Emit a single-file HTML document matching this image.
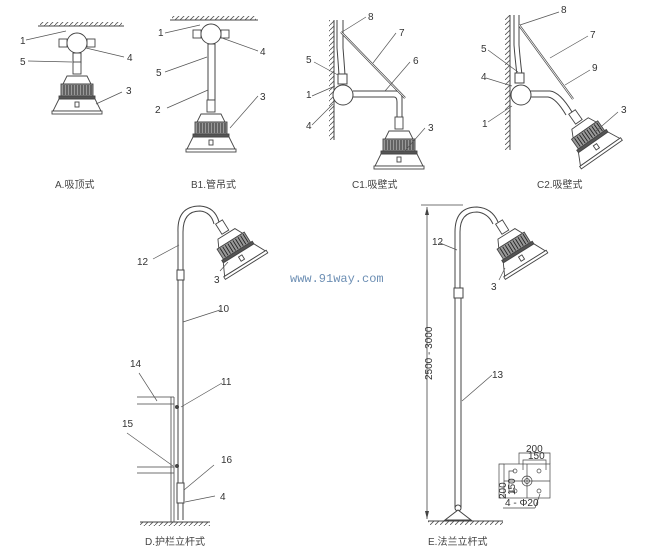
<!DOCTYPE html>
<html><head><meta charset="utf-8"><style>
html,body{margin:0;padding:0;background:#fff;}
svg{display:block;}
text{font-family:"Liberation Sans","Noto Sans CJK SC",sans-serif;font-size:10px;fill:#333;}
.c{font-size:10px;fill:#444;}
.f{font-size:10px;fill:#333;}
</style></head><body>
<svg width="647" height="557" viewBox="0 0 647 557" xmlns="http://www.w3.org/2000/svg">
<defs>
<pattern id="hh" width="5" height="5" patternUnits="userSpaceOnUse"><path d="M0 5 L5 0" stroke="#555" stroke-width="0.8"/></pattern>
<g id="lamp" fill="#fff" stroke="#444" stroke-width="0.9">
  <rect x="-4" y="0" width="8" height="12"/>
  <path d="M-10 14 L10 14 L14 22 L-14 22 Z"/>
  <rect x="-16" y="22" width="32" height="12" fill="#999"/>
  <path d="M-13 23V33M-10 23V33M-7 23V33M-4 23V33M-1 23V33M2 23V33M5 23V33M8 23V33M11 23V33M14 23V33" stroke="#222"/>
  <rect x="-18" y="34" width="36" height="3" fill="#555"/>
  <path d="M-18 37 L18 37 L24 49 L-24 49 Z"/>
  <rect x="-25" y="49" width="50" height="3"/>
  <rect x="-2" y="40" width="4" height="5"/>
</g>
<g id="box" fill="#fff" stroke="#444" stroke-width="0.9">
  <rect x="-18" y="-4" width="8" height="8"/><rect x="10" y="-4" width="8" height="8"/>
  <circle cx="0" cy="0" r="10"/>
</g>
</defs>

<!-- A -->
<rect x="40" y="22" width="82" height="4" fill="url(#hh)"/>
<line x1="38" y1="26" x2="124" y2="26" stroke="#444"/>
<use href="#box" x="77" y="43"/>
<rect x="73" y="53" width="8" height="10" fill="#fff" stroke="#444"/>
<use href="#lamp" x="77" y="62"/>
<g stroke="#555" stroke-width="0.7"><line x1="26" y1="40" x2="66" y2="31"/><line x1="86" y1="48" x2="124" y2="57"/><line x1="28" y1="61" x2="72" y2="62"/><line x1="96" y1="104" x2="122" y2="92"/></g>
<text x="20" y="44">1</text><text x="127" y="61">4</text><text x="20" y="65">5</text><text x="126" y="94">3</text>
<text class="c" x="55" y="188">A.吸顶式</text>

<!-- B1 -->
<rect x="172" y="16" width="84" height="4" fill="url(#hh)"/>
<line x1="170" y1="20" x2="258" y2="20" stroke="#444"/>
<use href="#box" x="211" y="34"/>
<rect x="208" y="44" width="7" height="56" fill="#fff" stroke="#444"/>
<use href="#lamp" x="211" y="100"/>
<g stroke="#555" stroke-width="0.7"><line x1="165" y1="33" x2="200" y2="25"/><line x1="222" y1="38" x2="258" y2="51"/><line x1="165" y1="72" x2="207" y2="57"/><line x1="167" y1="108" x2="208" y2="90"/><line x1="230" y1="128" x2="258" y2="96"/></g>
<text x="158" y="36">1</text><text x="260" y="55">4</text><text x="156" y="76">5</text><text x="155" y="113">2</text><text x="260" y="100">3</text>
<text class="c" x="191" y="188">B1.管吊式</text>

<!-- C1 -->
<rect x="329" y="20" width="5" height="120" fill="url(#hh)"/>
<line x1="334" y1="20" x2="334" y2="140" stroke="#444"/>
<path d="M337 20 V48 Q338 60 339 75 M343 20 V48 Q344 60 345 75" fill="none" stroke="#444"/>
<rect x="338" y="74" width="9" height="10" fill="#fff" stroke="#444"/>
<path d="M353 91 H396 Q402 91 402 98 V118 M353 97 H394 Q397 97 397 102 V118" fill="none" stroke="#444"/>
<circle cx="343" cy="95" r="10" fill="#fff" stroke="#444"/>
<line x1="341" y1="32" x2="405" y2="98" stroke="#444" stroke-width="2.2"/>
<line x1="341" y1="32" x2="405" y2="98" stroke="#fff" stroke-width="0.8"/>
<use href="#lamp" x="399" y="117"/>
<g stroke="#555" stroke-width="0.7"><line x1="342" y1="32" x2="366" y2="17"/><line x1="373" y1="63" x2="396" y2="33"/><line x1="385" y1="91" x2="410" y2="62"/><line x1="314" y1="62" x2="338" y2="75"/><line x1="312" y1="96" x2="335" y2="86"/><line x1="312" y1="125" x2="333" y2="104"/><line x1="404" y1="152" x2="425" y2="128"/></g>
<text x="368" y="20">8</text><text x="399" y="36">7</text><text x="413" y="64">6</text><text x="306" y="63">5</text><text x="306" y="98">1</text><text x="306" y="129">4</text><text x="428" y="131">3</text>
<text class="c" x="352" y="188">C1.吸壁式</text>

<!-- C2 -->
<rect x="505" y="15" width="5" height="135" fill="url(#hh)"/>
<line x1="510" y1="15" x2="510" y2="150" stroke="#444"/>
<path d="M514 15 V45 Q515 58 517 75 M519 15 V45 Q520 58 522 75" fill="none" stroke="#444"/>
<rect x="515" y="73" width="9" height="10" fill="#fff" stroke="#444"/>
<path d="M530 91 H550 Q560 92 572 112 M530 97 H548 Q556 98 566 115" fill="none" stroke="#444"/>
<circle cx="521" cy="95" r="10" fill="#fff" stroke="#444"/>
<line x1="519" y1="25" x2="573" y2="99" stroke="#444" stroke-width="2.2"/>
<line x1="519" y1="25" x2="573" y2="99" stroke="#fff" stroke-width="0.8"/>
<use href="#lamp" transform="translate(572,112) rotate(-35)"/>
<g stroke="#555" stroke-width="0.7"><line x1="520" y1="25" x2="559" y2="12"/><line x1="550" y1="58" x2="588" y2="36"/><line x1="565" y1="85" x2="590" y2="70"/><line x1="488" y1="50" x2="518" y2="72"/><line x1="486" y1="78" x2="512" y2="86"/><line x1="488" y1="122" x2="512" y2="106"/><line x1="595" y1="132" x2="618" y2="112"/></g>
<text x="561" y="13">8</text><text x="590" y="38">7</text><text x="592" y="71">9</text><text x="481" y="52">5</text><text x="481" y="80">4</text><text x="482" y="127">1</text><text x="621" y="113">3</text>
<text class="c" x="537" y="188">C2.吸壁式</text>

<!-- D -->
<path d="M178 520 V232 Q177 206 200 206 Q215 207 219 222 M183 520 V232 Q183 211 200 211 Q211 212 214 224" fill="none" stroke="#444"/>
<rect x="177" y="270" width="7" height="10" fill="#fff" stroke="#444"/>
<use href="#lamp" transform="translate(219,222) rotate(-32)"/>
<path d="M137 397 H174 M137 404 H174 M137 467 H174 M137 473 H174 M174 397 V522 M171 397 V522" fill="none" stroke="#444" stroke-width="0.8"/>
<circle cx="177" cy="407" r="2" fill="#444"/><circle cx="177" cy="466" r="2" fill="#444"/>
<rect x="177" y="483" width="7" height="20" fill="#fff" stroke="#444"/>
<rect x="140" y="522" width="70" height="4" fill="url(#hh)"/>
<line x1="140" y1="522" x2="210" y2="522" stroke="#444"/>
<g stroke="#555" stroke-width="0.7"><line x1="153" y1="259" x2="179" y2="245"/><line x1="183" y1="322" x2="220" y2="310"/><line x1="139" y1="373" x2="157" y2="401"/><line x1="181" y1="407" x2="222" y2="383"/><line x1="127" y1="433" x2="173" y2="466"/><line x1="184" y1="490" x2="214" y2="465"/><line x1="185" y1="502" x2="215" y2="496"/><line x1="220" y1="271" x2="228" y2="262"/></g>
<text x="137" y="265">12</text><text x="218" y="312">10</text><text x="130" y="367">14</text><text x="221" y="385">11</text><text x="122" y="427">15</text><text x="221" y="463">16</text><text x="220" y="500">4</text><text x="214" y="283">3</text>
<text class="c" x="145" y="545">D.护栏立杆式</text>

<text x="290" y="282" style="font-family:'Liberation Mono',monospace;font-size:12px;fill:#6d8fb4">www.91way.com</text>

<!-- E -->
<line x1="421" y1="205" x2="463" y2="205" stroke="#444" stroke-width="0.7"/>
<line x1="427" y1="207" x2="427" y2="519" stroke="#444" stroke-width="0.8"/>
<path d="M427 207 l-2 8 h4 Z M427 519 l-2 -8 h4 Z" fill="#444"/>
<text transform="translate(432,380) rotate(-90)" style="font-size:10px">2500 - 3000</text>
<path d="M455 290 V232 Q455 207 477 207 Q492 208 498 222 M460 290 V232 Q460 212 477 212 Q488 213 493 224" fill="none" stroke="#444"/>
<rect x="454" y="288" width="9" height="10" fill="#fff" stroke="#444"/>
<path d="M455 298 V508 M461 298 V508" stroke="#444" fill="none"/>
<circle cx="458" cy="508" r="3" fill="#fff" stroke="#444"/>
<path d="M445 520 L458 510 L471 520 Z" fill="#fff" stroke="#444"/>
<use href="#lamp" transform="translate(499,222) rotate(-32)"/>
<rect x="428" y="521" width="75" height="4" fill="url(#hh)"/>
<line x1="428" y1="521" x2="503" y2="521" stroke="#444"/>
<g stroke="#555" stroke-width="0.7"><line x1="440" y1="243" x2="457" y2="250"/><line x1="462" y1="401" x2="492" y2="375"/><line x1="499" y1="280" x2="505" y2="268"/></g>
<text x="432" y="245">12</text><text x="492" y="378">13</text><text x="491" y="290">3</text>
<!-- flange -->
<g stroke="#444" fill="none" stroke-width="0.7">
<rect x="504" y="464" width="46" height="34"/>
<line x1="527" y1="464" x2="527" y2="498"/><line x1="504" y1="481" x2="550" y2="481"/>
<circle cx="527" cy="481" r="5"/><circle cx="527" cy="481" r="2.5"/>
<circle cx="515" cy="471" r="2"/><circle cx="539" cy="471" r="2"/><circle cx="515" cy="491" r="2"/><circle cx="539" cy="491" r="2"/>
<path d="M519 464 V453 H550 V464 M523 470 V460 H546 V470 M504 464 H499 V498 H504 M514 471 H509 V491 H514"/>
<line x1="503" y1="508" x2="535" y2="508"/><line x1="535" y1="508" x2="540" y2="494"/>
</g>
<text class="f" x="526" y="452">200</text><text class="f" x="528" y="459">150</text>
<text class="f" transform="translate(506,499) rotate(-90)">200</text><text class="f" transform="translate(515,495) rotate(-90)">150</text>
<text class="f" x="505" y="506">4 - Φ20</text>
<text class="c" x="428" y="545">E.法兰立杆式</text>
</svg>
</body></html>
